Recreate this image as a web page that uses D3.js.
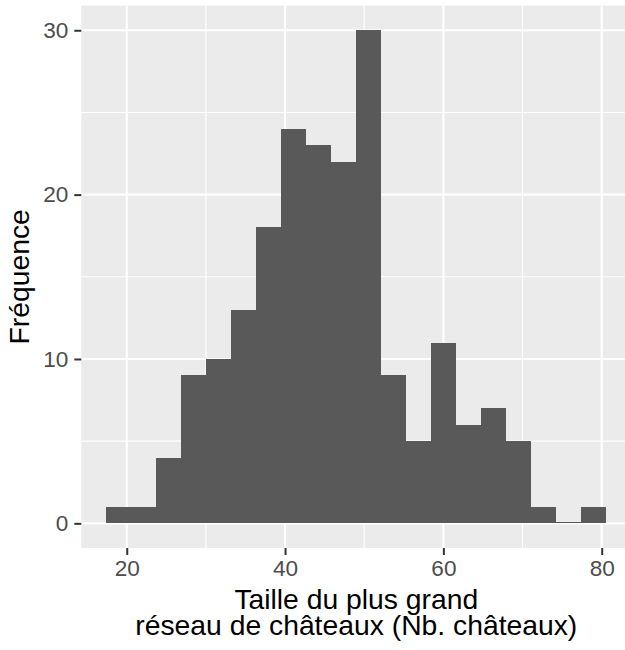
<!DOCTYPE html>
<html>
<head>
<meta charset="utf-8">
<script src="https://cdn.jsdelivr.net/npm/d3@7"></script>
<style>
  html, body { margin: 0; padding: 0; background: #fff; }
  svg { display: block; font-family: "Liberation Sans", Arial, sans-serif; }
</style>
</head>
<body>
<script>
// Histogram bin edges (ggplot bins=20, centred on 19..79)
const binEdges = [17.42, 20.58, 23.74, 26.89, 30.05, 33.21, 36.37, 39.53, 42.68, 45.84,
                  49.00, 52.16, 55.32, 58.47, 61.63, 64.79, 67.95, 71.11, 74.26, 77.42, 80.58];
const counts = [1, 1, 4, 9, 10, 13, 18, 24, 23, 22, 30, 9, 5, 11, 6, 7, 5, 1, 0, 1];
const xTicks = [20, 40, 60, 80];
const xMinor = [30, 50, 70];
const yTicks = [0, 10, 20, 30];
const yMinor = [5, 15, 25];
const xTitle = ["Taille du plus grand", "réseau de châteaux (Nb. châteaux)"];
const yTitle = "Fréquence";

const W = 625, H = 650;
const svg = d3.select("body").append("svg").attr("width", W).attr("height", H);

const x = d3.scaleLinear().domain([14.26, 83.74]).range([81.3, 631.3]);
const y = d3.scaleLinear().domain([-1.5, 31.5]).range([548, 5.6]);

const pL = x.range()[0], pR = x.range()[1], pT = y.range()[1], pB = y.range()[0];

svg.append("rect").attr("x", pL).attr("y", pT).attr("width", pR - pL).attr("height", pB - pT)
  .attr("fill", "#EBEBEB");

const grid = svg.append("g");
grid.selectAll(".xm").data(xMinor).join("line").attr("class", "xm")
  .attr("x1", d => x(d)).attr("x2", d => x(d)).attr("y1", pT).attr("y2", pB)
  .attr("stroke", "#fff").attr("stroke-width", 1.1);
grid.selectAll(".ym").data(yMinor).join("line").attr("class", "ym")
  .attr("y1", d => y(d)).attr("y2", d => y(d)).attr("x1", pL).attr("x2", pR)
  .attr("stroke", "#fff").attr("stroke-width", 1.1);
grid.selectAll(".xM").data(xTicks).join("line").attr("class", "xM")
  .attr("x1", d => x(d)).attr("x2", d => x(d)).attr("y1", pT).attr("y2", pB)
  .attr("stroke", "#fff").attr("stroke-width", 2.1);
grid.selectAll(".yM").data(yTicks).join("line").attr("class", "yM")
  .attr("y1", d => y(d)).attr("y2", d => y(d)).attr("x1", pL).attr("x2", pR)
  .attr("stroke", "#fff").attr("stroke-width", 2.1);

const bins = counts.map((c, i) => ({ x0: binEdges[i], x1: binEdges[i + 1], c }));
svg.append("g").selectAll("rect").data(bins).join("rect")
  .attr("x", d => x(d.x0))
  .attr("width", d => x(d.x1) - x(d.x0))
  .attr("y", d => d.c > 0 ? y(d.c) : y(0) - 1)
  .attr("height", d => d.c > 0 ? y(0) - y(d.c) : 1)
  .attr("fill", "#595959")
  .attr("shape-rendering", "crispEdges");

// Axes
const xAxis = svg.append("g").attr("transform", `translate(0,${pB})`)
  .call(d3.axisBottom(x).tickValues(xTicks).tickSize(7).tickPadding(5));
const yAxis = svg.append("g").attr("transform", `translate(${pL},0)`)
  .call(d3.axisLeft(y).tickValues(yTicks).tickSize(7).tickPadding(6));
[xAxis, yAxis].forEach(a => {
  a.select(".domain").remove();
  a.selectAll(".tick line").attr("stroke", "#333333").attr("stroke-width", 2);
  a.selectAll(".tick text").attr("fill", "#4D4D4D").style("font-size", "22.6px")
    .style("font-family", "'Liberation Sans', Arial, sans-serif");
});

// Titles
const cx = (pL + pR) / 2;
svg.append("g").selectAll("text").data(xTitle).join("text")
  .attr("text-anchor", "middle")
  .style("font-size", "28.3px").attr("fill", "#000")
  .attr("x", cx).attr("y", (d, i) => 609 + i * 26).text(d => d);

svg.append("text")
  .attr("transform", `translate(29,${(pT + pB) / 2}) rotate(-90)`)
  .attr("text-anchor", "middle")
  .style("font-size", "28.3px").attr("fill", "#000")
  .text(yTitle);
</script>
</body>
</html>
